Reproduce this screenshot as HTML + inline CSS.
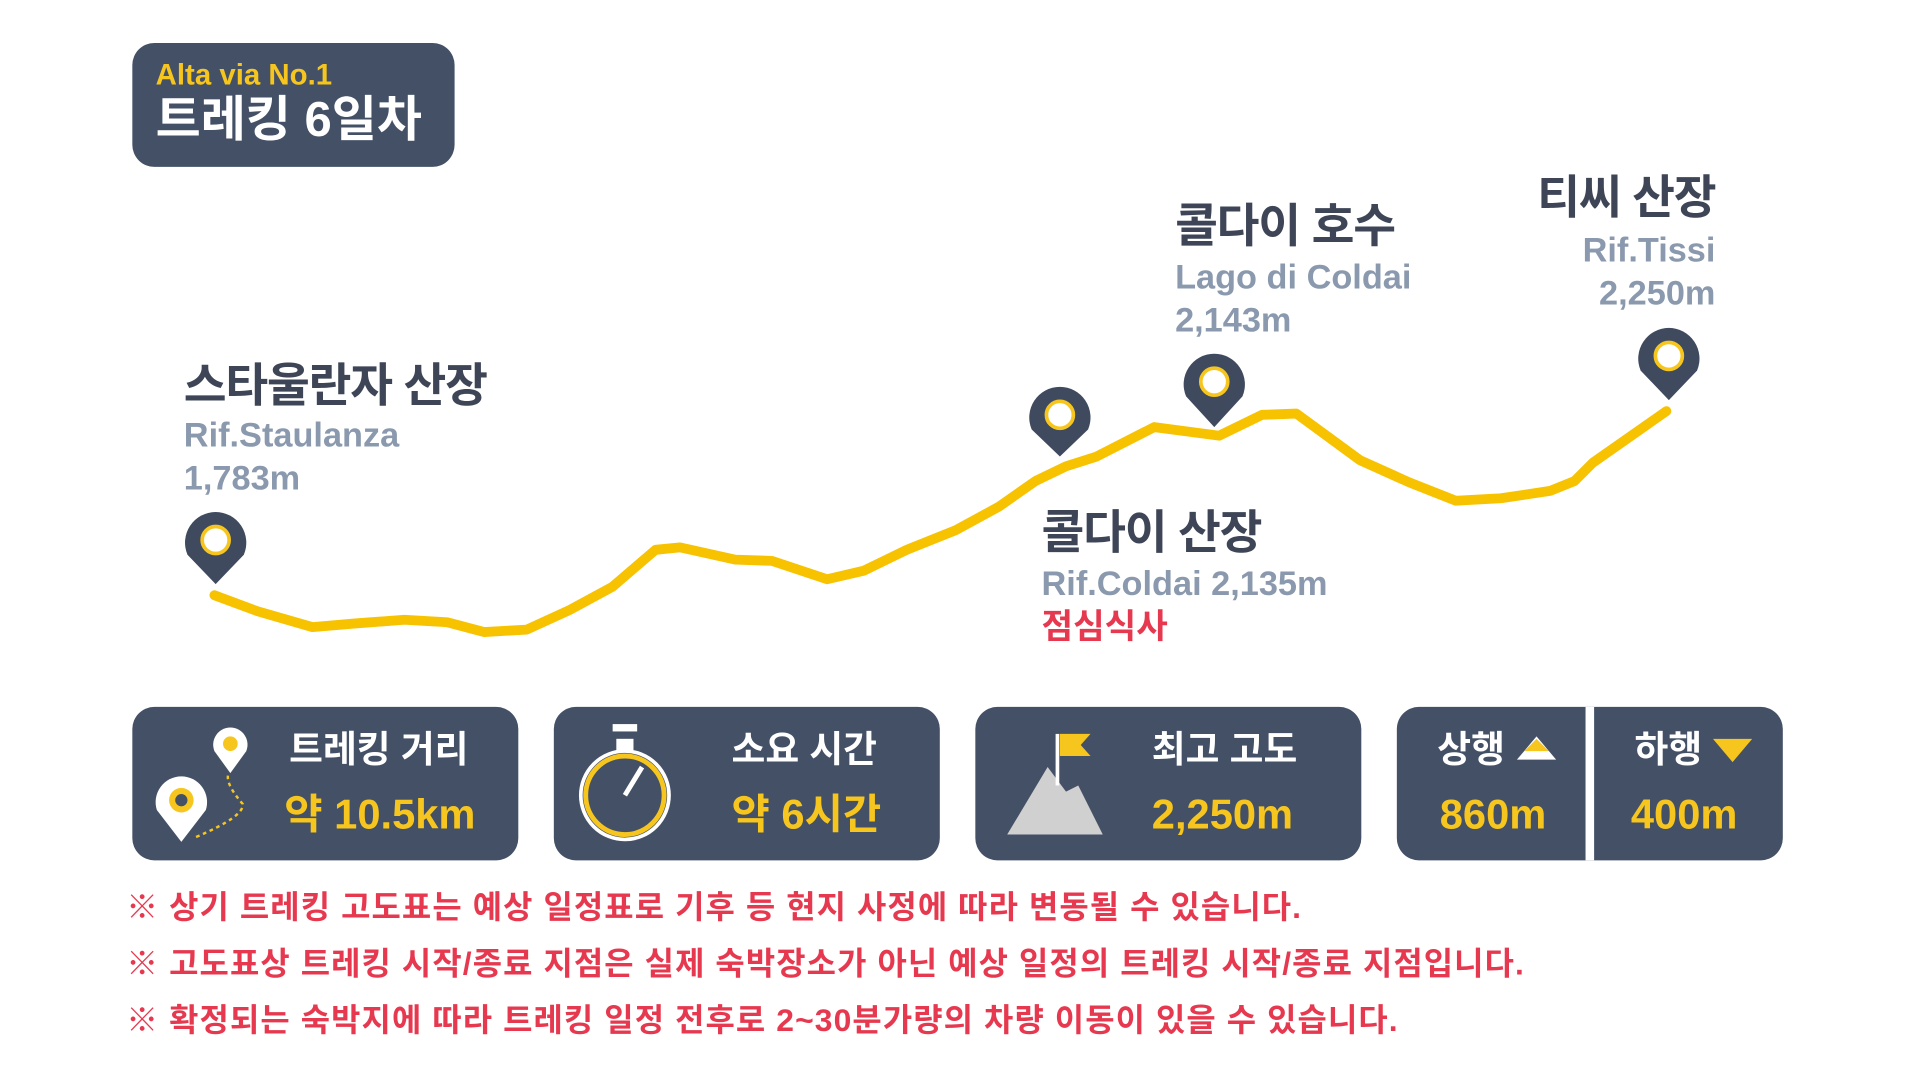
<!DOCTYPE html>
<html><head><meta charset="utf-8"><style>
html,body{margin:0;padding:0;background:#fff;width:1920px;height:1080px;overflow:hidden}
#w{position:absolute;left:0;top:0;width:1560px;height:880px;transform:scale(1.2253,1.22727);transform-origin:0 0;font-family:"Liberation Sans","Noto Sans CJK KR",sans-serif;font-weight:bold}
.t{position:absolute;white-space:nowrap;line-height:1}
.k{color:#3d4556;font-size:38px;letter-spacing:-1px}
.g{color:#8a99ae;font-size:28px}
.box{position:absolute;top:576px;height:125px;background:#435066;border-radius:18px}
.bt{color:#fff;font-size:30px}
.bv{color:#f7c61e;font-size:34px}
.n{color:#e63950;font-size:26px;left:103px;letter-spacing:0.9px}
</style></head><body><div id="w">
<div style="position:absolute;left:108px;top:35px;width:263px;height:101px;background:#435066;border-radius:18px"></div>
<div class="t" style="left:127px;top:50px;color:#f7c61e;font-size:24px">Alta via No.1</div>
<div class="t" style="left:127px;top:78px;color:#fff;font-size:40px">트레킹 6일차</div>

<svg style="position:absolute;left:0;top:0" width="1560" height="880">
<polyline fill="none" stroke="#f7c200" stroke-width="8" stroke-linejoin="round" stroke-linecap="round" points="175,485 210,498 255,511 290,508 330,505 365,507 395,515 430,513 465,497 500,478 535,448 555,446 600,456 630,457 675,472 705,465 740,448 780,432 815,413 845,392 870,380 895,372 942,348 995,355 1030,338 1058,337 1110,375 1150,393 1188,408 1225,406 1265,400 1285,392 1300,377 1360,335"/>
<g fill="#3f4a5e">
<path d="M176,476 L153,452 A25,25 0 1 1 199,452 Z"/>
<path d="M865,372 L842,350 A25,25 0 1 1 888,350 Z"/>
<path d="M991,348 L968,323 A25,25 0 1 1 1014,323 Z"/>
<path d="M1362,326 L1339,302 A25,25 0 1 1 1385,302 Z"/>
</g>
<g fill="#fff" stroke="#f7c61e" stroke-width="3">
<circle cx="176" cy="440" r="11"/><circle cx="865" cy="338" r="11"/><circle cx="991" cy="311" r="11"/><circle cx="1362" cy="290" r="11"/>
</g>
</svg>

<div class="t k" style="left:150px;top:296px">스타울란자 산장</div>
<div class="t g" style="left:150px;top:341px">Rif.Staulanza</div>
<div class="t g" style="left:150px;top:376px">1,783m</div>
<div class="t k" style="left:959px;top:166px">콜다이 호수</div>
<div class="t g" style="left:959px;top:212px">Lago di Coldai</div>
<div class="t g" style="left:959px;top:247px">2,143m</div>
<div class="t k" style="right:160px;top:143px;text-align:right">티씨 산장</div>
<div class="t g" style="right:160px;top:190px">Rif.Tissi</div>
<div class="t g" style="right:160px;top:225px">2,250m</div>
<div class="t k" style="left:850px;top:416px">콜다이 산장</div>
<div class="t g" style="left:850px;top:462px">Rif.Coldai 2,135m</div>
<div class="t" style="left:850px;top:497px;color:#e63950;font-size:28px">점심식사</div>

<div class="box" style="left:108px;width:315px"></div>
<div class="box" style="left:452px;width:315px"></div>
<div class="box" style="left:796px;width:315px"></div>
<div class="box" style="left:1140px;width:315px"></div>
<div style="position:absolute;left:1294px;top:576px;width:7px;height:125px;background:#fff"></div>

<svg style="position:absolute;left:0;top:0" width="1560" height="880">
<path d="M148,686 L128,660 A21,21 0 1 1 168,660 Z" fill="#fff"/><circle cx="148" cy="652" r="10" fill="#f7c61e"/><circle cx="148" cy="652" r="5" fill="#435066"/>
<path d="M188,630 L175,612 A14,14 0 1 1 201,612 Z" fill="#fff"/><circle cx="188" cy="606" r="6" fill="#f7c61e"/>
<path d="M160,682 Q200,665 198,655 Q185,640 186,632" fill="none" stroke="#f7c61e" stroke-width="2" stroke-dasharray="3,3"/>
<circle cx="510" cy="648" r="36" fill="none" stroke="#fff" stroke-width="3"/><circle cx="510" cy="648" r="32" fill="none" stroke="#f7c61e" stroke-width="4"/>
<rect x="503" y="602" width="14" height="10" fill="#fff"/><rect x="500" y="590" width="20" height="6" fill="#fff"/>
<line x1="510" y1="648" x2="524" y2="625" stroke="#fff" stroke-width="4"/>
<polygon points="822,680 855,625 870,645 880,640 900,680" fill="#d0d0d0"/>
<line x1="863" y1="598" x2="863" y2="640" stroke="#fff" stroke-width="3"/>
<polygon points="865,598 890,598 882,607 890,616 865,616" fill="#f7c61e"/>
<polygon points="1238,619 1254,600 1270,619" fill="#fff"/><polygon points="1244,612 1254,602 1264,612" fill="#f7c61e"/>
<polygon points="1398,602 1430,602 1414,621" fill="#f7c61e"/>
</svg>
<div class="t bt" style="left:236px;top:597px">트레킹 거리</div>
<div class="t bv" style="left:232px;top:647px">약 10.5km</div>
<div class="t bt" style="left:597px;top:597px">소요 시간</div>
<div class="t bv" style="left:597px;top:647px">약 6시간</div>
<div class="t bt" style="left:940px;top:597px">최고 고도</div>
<div class="t bv" style="left:940px;top:647px">2,250m</div>
<div class="t bt" style="left:1173px;top:597px">상행</div>
<div class="t bv" style="left:1175px;top:647px">860m</div>
<div class="t bt" style="left:1334px;top:597px">하행</div>
<div class="t bv" style="left:1331px;top:647px">400m</div>

<div class="t n" style="top:726px">※ 상기 트레킹 고도표는 예상 일정표로 기후 등 현지 사정에 따라 변동될 수 있습니다.</div>
<div class="t n" style="top:772px">※ 고도표상 트레킹 시작/종료 지점은 실제 숙박장소가 아닌 예상 일정의 트레킹 시작/종료 지점입니다.</div>
<div class="t n" style="top:818px">※ 확정되는 숙박지에 따라 트레킹 일정 전후로 2~30분가량의 차량 이동이 있을 수 있습니다.</div>
</div></body></html>
